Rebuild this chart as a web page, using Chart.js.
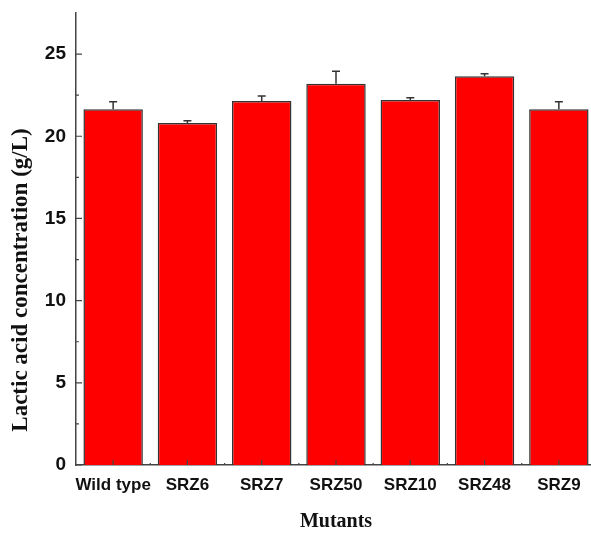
<!DOCTYPE html>
<html>
<head>
<meta charset="utf-8">
<script src="https://cdn.jsdelivr.net/npm/chart.js@4.4.3/dist/chart.umd.min.js"></script>
<style>
  html, body { margin: 0; padding: 0; background: #fff; overflow: hidden; }
  .wrap { width: 598px; height: 534px; position: relative; }
</style>
</head>
<body>
<div class="wrap"><canvas id="chart"></canvas></div>
<script>
const mutants = ['Wild type', 'SRZ6', 'SRZ7', 'SRZ50', 'SRZ10', 'SRZ48', 'SRZ9'];
const lacticAcid = [21.65, 20.8, 22.15, 23.2, 22.2, 23.65, 21.65];
const lacticErr = [0.45, 0.15, 0.3, 0.75, 0.15, 0.15, 0.45];
const yMajorTicks = [0, 5, 10, 15, 20, 25];
const yTitle = 'Lactic acid concentration (g/L)';

const axisColor = '#444';

// error bars (upper only), inward ticks on both axes, y title
const extrasPlugin = {
    id: 'extras',
    afterDatasetsDraw(chart) {
        const ctx = chart.ctx;
        const x = chart.scales.x;
        const y = chart.scales.y;
        ctx.save();
        ctx.strokeStyle = '#333';
        ctx.lineWidth = 1.5;
        lacticAcid.forEach((v, i) => {
            const cx = x.getPixelForValue(i);
            const y0 = y.getPixelForValue(v);
            const y1 = y.getPixelForValue(v + lacticErr[i]);
            ctx.beginPath();
            ctx.moveTo(cx, y0);
            ctx.lineTo(cx, y1);
            ctx.moveTo(cx - 4, y1);
            ctx.lineTo(cx + 4, y1);
            ctx.stroke();
        });
        ctx.restore();
    },
    afterDraw(chart) {
        const ctx = chart.ctx;
        const x = chart.scales.x;
        const y = chart.scales.y;
        const area = chart.chartArea;
        ctx.save();
        ctx.strokeStyle = axisColor;
        ctx.lineWidth = 1.2;
        ctx.beginPath();
        for (let v = 0; v <= 25; v += 2.5) {
            const py = y.getPixelForValue(v);
            const len = v % 5 === 0 ? 6 : 3;
            ctx.moveTo(area.left, py);
            ctx.lineTo(area.left + len, py);
        }
        mutants.forEach((m, i) => {
            const px = x.getPixelForValue(i);
            ctx.moveTo(px, area.bottom);
            ctx.lineTo(px, area.bottom - 5);
            const half = x.getPixelForValue(i + 0.5);
            ctx.moveTo(half, area.bottom);
            ctx.lineTo(half, area.bottom - 2);
        });
        ctx.stroke();

        // y axis title, sits a bit below the middle of the axis in the original
        ctx.translate(21, 280);
        ctx.rotate(-Math.PI / 2);
        ctx.fillStyle = '#111';
        ctx.font = "bold 23px 'Liberation Serif', 'Times New Roman', serif";
        ctx.textAlign = 'center';
        ctx.textBaseline = 'middle';
        ctx.fillText(yTitle, 0, 0);
        ctx.restore();
    }
};

new Chart(document.getElementById('chart'), {
    type: 'bar',
    data: {
        labels: mutants,
        datasets: [{
            data: lacticAcid,
            backgroundColor: '#ff0000',
            borderColor: '#333',
            borderWidth: 1.5,
            barPercentage: 0.8,
            categoryPercentage: 1.0
        }]
    },
    options: {
        responsive: true,
        maintainAspectRatio: false,
        animation: false,
        layout: { padding: { top: 13, right: 2, left: 4, bottom: 0 } },
        plugins: {
            legend: { display: false },
            tooltip: { enabled: false }
        },
        scales: {
            x: {
                grid: { display: false, drawTicks: false },
                border: { display: true, color: axisColor, width: 1.5 },
                ticks: {
                    color: '#111',
                    padding: 10,
                    maxRotation: 0,
                    autoSkip: false,
                    font: { family: "'Liberation Sans', Arial, sans-serif", size: 17, weight: 'bold' }
                },
                title: {
                    display: true,
                    text: 'Mutants',
                    color: '#111',
                    padding: { top: 0, bottom: 0 },
                    font: { family: "'Liberation Serif', 'Times New Roman', serif", size: 20, weight: 'bold' }
                },
                afterFit(scale) {
                    scale.height = 69;
                    scale.paddingLeft = 0;
                    scale.paddingRight = 0;
                }
            },
            y: {
                min: 0,
                max: 27.5,
                grid: { display: false, drawTicks: false },
                border: { display: true, color: axisColor, width: 1.5 },
                ticks: {
                    stepSize: 2.5,
                    padding: 10,
                    color: '#111',
                    font: { family: "'Liberation Sans', Arial, sans-serif", size: 19, weight: 'bold' },
                    callback: (v) => yMajorTicks.includes(v) ? v : ''
                },
                afterFit(scale) {
                    scale.width = 72;
                    scale.paddingTop = 0;
                    scale.paddingBottom = 0;
                }
            }
        }
    },
    plugins: [extrasPlugin]
});
</script>
</body>
</html>
